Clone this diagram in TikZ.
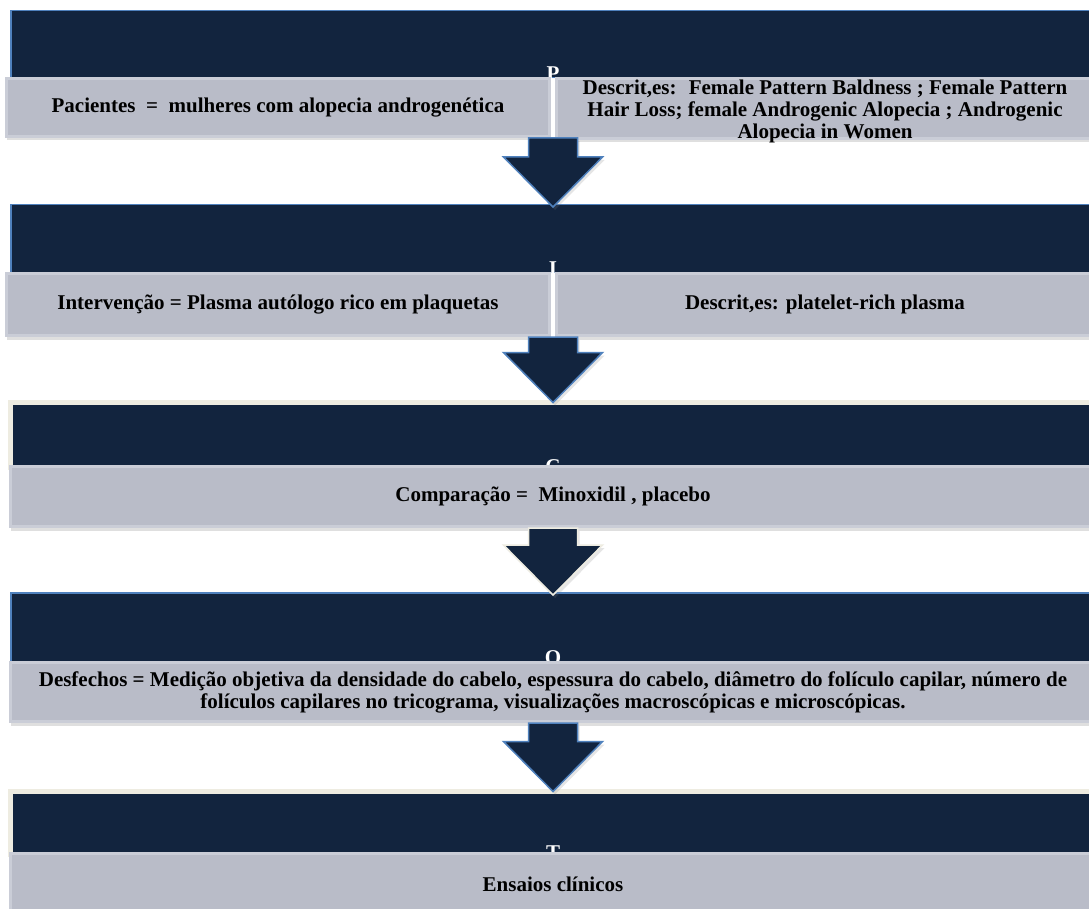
\documentclass[tikz,border=0pt]{standalone}
\usepackage{fontspec}
\setmainfont{Liberation Serif}
\usepackage{tikz}
\usetikzlibrary{calc, shadows}
\definecolor{navyColor}{HTML}{12243E}
\definecolor{edgeColor}{HTML}{4F81BD}
\definecolor{creamColor}{HTML}{EEECE1}
\definecolor{barColor}{HTML}{B9BCC8}
\definecolor{barEdgeColor}{HTML}{CACDD7}

\newcommand{\blockarrow}[3][edgeColor]{%
    \filldraw[fill=navyColor, draw=#1, line width=1.5pt, line join=miter,
        drop shadow={shadow xshift=2pt, shadow yshift=-3pt, opacity=0.2}]
        let \p1 = (#2), \p2 = (#3) in
        (\x1-24.5pt,\y1) -- (\x1+24.5pt,\y1) -- (\x1+24.5pt,\y2+47pt)
        -- (\x1+49.5pt,\y2+47pt) -- (\x1,\y2-3pt) -- (\x1-49.5pt,\y2+47pt)
        -- (\x1-24.5pt,\y2+47pt) -- cycle;
}

\begin{document}
\begin{tikzpicture}[x=1pt, y=-1pt,
    band/.style={fill=navyColor, draw=edgeColor, line width=1.5pt,
        minimum width=1084pt, anchor=north, inner sep=0pt},
    creamband/.style={band, draw=creamColor, line width=5pt, minimum width=1085pt},
    bar/.style={fill=barColor, draw=barEdgeColor, line width=3pt, anchor=north,
        inner sep=0pt, align=center, font=\bfseries\fontsize{21}{22}\selectfont,
        drop shadow={shadow xshift=0pt, shadow yshift=-4pt, opacity=0.25}},
    letter/.style={text=white, anchor=base, inner sep=0pt,
        font=\bfseries\fontsize{21}{22}\selectfont}]
    \useasboundingbox[fill=white] (0,0) rectangle (1089,909);

    \node[band, minimum height=67pt] (pband) at (553,10) {};
    \node[letter] (pletter) at ($(pband.south)+(0,2)$) {P};
    \node[bar, minimum width=543pt, minimum height=58pt] (ptext) at (278,77)
        {Pacientes \ = \ mulheres com alopecia androgenética};
    \node[bar, minimum width=537pt, minimum height=58pt,
        text height=60pt, text depth=-2pt] (pdesc) at (825,77)
        {Descrit,es: \ Female Pattern Baldness ; Female Pattern\\
         Hair Loss; female Androgenic Alopecia ; Androgenic\\
         Alopecia in Women};
    \coordinate (pout) at (pband.south |- ptext.south);

    \node[band, minimum height=68pt] (iband) at (553,204) {};
    \node[letter] (iletter) at ($(iband.south)+(0,2)$) {I};
    \node[bar, minimum width=543pt, minimum height=62pt] (itext) at (278,272)
        {Intervenção = Plasma autólogo rico em plaquetas};
    \node[bar, minimum width=537pt, minimum height=62pt] (idesc) at (825,272)
        {Descrit,es: platelet-rich plasma};
    \coordinate (iout) at (iband.south |- itext.south);

    \node[creamband, minimum height=65.5pt] (cband) at (553,399.5) {};
    \node[letter] (cletter) at ($(cband.south)+(0,3)$) {C};
    \node[bar, minimum width=1085pt, minimum height=60pt] (ctext) at (553,465)
        {Comparação = \ Minoxidil , placebo};
    \coordinate (cout) at (ctext.south);

    \node[band, minimum height=69pt] (oband) at (553,592) {};
    \node[letter] (oletter) at ($(oband.south)+(0,2)$) {O};
    \node[bar, minimum width=1085pt, minimum height=59pt] (otext) at (553,661)
        {Desfechos = Medição objetiva da densidade do cabelo, espessura do cabelo, diâmetro do folículo capilar, número de\\
         folículos capilares no tricograma, visualizações macroscópicas e microscópicas.};
    \coordinate (oout) at (otext.south);

    \node[creamband, minimum height=63.5pt] (tband) at (553,788.5) {};
    \node[letter] (tletter) at ($(tband.south)+(0,2)$) {T};
    \node[bar, minimum width=1085pt, minimum height=62pt] (ttext) at (553,852)
        {Ensaios clínicos};

    \blockarrow{pout}{iband.north}
    \blockarrow{iout}{cband.north}
    \blockarrow[creamColor]{cout}{oband.north}
    \blockarrow{oout}{tband.north}
\end{tikzpicture}
\end{document}
